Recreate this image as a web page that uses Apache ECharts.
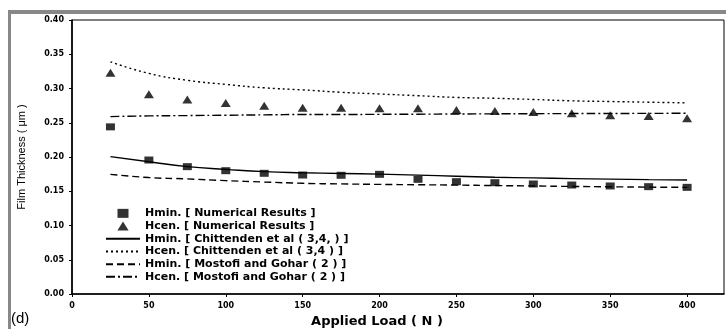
<!DOCTYPE html>
<html>
<head>
<meta charset="utf-8">
<script src="https://cdn.jsdelivr.net/npm/echarts@6/dist/echarts.min.js"></script>
<style>
html,body{margin:0;padding:0;background:#fff;}
#chart{position:absolute;left:0;top:0;width:726px;height:329px;}
.frame{position:absolute;background:#888;pointer-events:none;z-index:5;}
</style>
</head>
<body>
<div id="chart"></div>
<div class="frame" style="left:8px;top:10px;width:718px;height:4px;"></div>
<div class="frame" style="left:8px;top:10px;width:3px;height:319px;"></div>
<script>
// Applied load (N)
const loads = [25, 50, 75, 100, 125, 150, 175, 200, 225, 250, 275, 300, 325, 350, 375, 400];
// Numerical results
const hminNumerical = [0.244, 0.1956, 0.1859, 0.180, 0.1762, 0.1737, 0.1733, 0.1747, 0.1674, 0.164, 0.1625, 0.1606, 0.1591, 0.1577, 0.1567, 0.1557];
const hcenNumerical = [0.323, 0.2915, 0.284, 0.279, 0.2749, 0.272, 0.272, 0.271, 0.271, 0.2686, 0.267, 0.2657, 0.2638, 0.261, 0.260, 0.2565];
// Chittenden et al (3,4)
const hminChittenden = [0.2005, 0.193, 0.186, 0.182, 0.1786, 0.177, 0.176, 0.175, 0.1735, 0.172, 0.1705, 0.1695, 0.1685, 0.1677, 0.167, 0.1664];
const hcenChittenden = [0.339, 0.322, 0.312, 0.306, 0.301, 0.298, 0.2945, 0.292, 0.2895, 0.287, 0.2857, 0.284, 0.282, 0.281, 0.280, 0.279];
// Mostofi and Gohar (2)
const hminMostofi = [0.1747, 0.170, 0.168, 0.1655, 0.1635, 0.1616, 0.1607, 0.160, 0.1595, 0.159, 0.1583, 0.1577, 0.157, 0.1565, 0.156, 0.1557];
const hcenMostofi = [0.259, 0.2600, 0.2605, 0.261, 0.2615, 0.262, 0.262, 0.2623, 0.2625, 0.2628, 0.263, 0.2632, 0.2634, 0.2635, 0.2637, 0.2638];
// Axis ticks
const xTicks = [0, 50, 100, 150, 200, 250, 300, 350, 400];
const seriesNames = [
  'Hmin. [ Numerical Results ]',
  'Hcen. [ Numerical Results ]',
  'Hmin. [ Chittenden et al ( 3,4, ) ]',
  'Hcen. [ Chittenden et al ( 3,4 ) ]',
  'Hmin. [ Mostofi and Gohar ( 2 ) ]',
  'Hcen. [ Mostofi and Gohar ( 2 ) ]'
];

const pair = arr => loads.map((x, i) => [x, arr[i]]);
const lineSeries = (name, arr, dash) => ({
  name, type: 'line', data: pair(arr), symbol: 'none', smooth: true,
  lineStyle: {color: '#000', width: 1.4, type: dash},
  itemStyle: {color: 'rgba(0,0,0,0)', borderWidth: 0}, z: 2, animation: false
});

const chart = echarts.init(document.getElementById('chart'), null, {renderer: 'canvas'});
chart.setOption({
  backgroundColor: '#fff',
  animation: false,
  title: {
    text: '(d)', left: 11, top: 311, padding: 0,
    textStyle: {fontFamily: 'Liberation Sans', fontSize: 15, fontWeight: 'normal', color: '#000'}
  },
  grid: {left: 72, right: 2, top: 20, bottom: 35, containLabel: false, outerBoundsMode: 'none',
    show: true, borderColor: '#000', borderWidth: 1},
  legend: {
    orient: 'vertical', left: 105, top: 207, padding: 0,
    itemWidth: 34, itemHeight: 9, itemGap: 0,
    textStyle: {fontFamily: 'DejaVu Sans', fontSize: 11, fontWeight: 'bold', color: '#000', lineHeight: 12.7},
    data: [
      {name: seriesNames[0], icon: 'path://M0,0L11,0L11,9L0,9Z'},
      {name: seriesNames[1], icon: 'path://M5,0L10,8L0,8Z'},
      seriesNames[2], seriesNames[3], seriesNames[4], seriesNames[5]
    ]
  },
  xAxis: {
    type: 'value', min: 0, max: 424,
    name: 'Applied Load ( N )', nameLocation: 'middle', nameGap: 21,
    nameTextStyle: {fontFamily: 'DejaVu Sans', fontSize: 13, fontWeight: 'bold', color: '#000', padding: [0, 42, 0, 0]},
    axisLine: {show: true, onZero: false, lineStyle: {color: '#000', width: 1.6}},
    axisTick: {show: true, length: 3, customValues: xTicks, lineStyle: {color: '#000'}},
    axisLabel: {customValues: xTicks, margin: 8, fontFamily: 'DejaVu Sans', fontSize: 8, fontWeight: 'bold', color: '#000'},
    splitLine: {show: false}
  },
  yAxis: {
    type: 'value', min: 0, max: 0.4, interval: 0.05,
    name: 'Film Thickness ( μm )', nameLocation: 'middle', nameGap: 45,
    nameTextStyle: {fontFamily: 'Liberation Sans', fontSize: 11, color: '#000'},
    axisLine: {show: true, lineStyle: {color: '#000', width: 1.6}},
    axisTick: {show: true, length: 3, lineStyle: {color: '#000'}},
    axisLabel: {margin: 8, fontFamily: 'DejaVu Sans', fontSize: 8, fontWeight: 'bold', color: '#000',
      formatter: v => v.toFixed(2)},
    splitLine: {show: false}
  },
  series: [
    {name: seriesNames[0], type: 'scatter', data: pair(hminNumerical), symbol: 'rect', symbolSize: [9, 7], itemStyle: {color: '#000'}, z: 3},
    {name: seriesNames[1], type: 'scatter', data: pair(hcenNumerical), symbol: 'triangle', symbolSize: [10, 8], itemStyle: {color: '#000'}, z: 3},
    lineSeries(seriesNames[2], hminChittenden, 'solid'),
    lineSeries(seriesNames[3], hcenChittenden, [2, 3]),
    lineSeries(seriesNames[4], hminMostofi, [7, 4]),
    lineSeries(seriesNames[5], hcenMostofi, [9, 3, 2, 3])
  ]
});
</script>
</body>
</html>
